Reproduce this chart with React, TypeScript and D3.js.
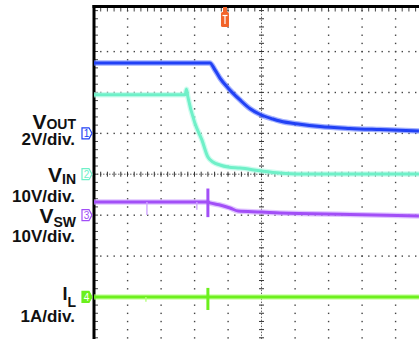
import React from "react";
import * as d3 from "d3";

// Time axis in divisions (0..10), each trace in its own physical units.
const voutT = [0, 3.46, 3.61, 3.76, 4.0, 4.36, 4.66, 4.96, 5.34, 5.55, 6.15, 6.75, 7.64, 8.54, 9.7];
const voutV = [3.44, 3.44, 3.1, 2.7, 2.22, 1.63, 1.2, 0.92, 0.7, 0.6, 0.44, 0.33, 0.24, 0.18, 0.11];

const vinT = [0, 2.72, 2.76, 2.8, 3.01, 3.22, 3.4, 3.55, 3.76, 4.0, 4.36, 5.01, 5.55, 6.15, 9.7];
const vinV = [19.4, 19.4, 20.8, 19.0, 12.5, 8.4, 4.2, 3.0, 2.25, 1.76, 1.5, 0.78, 0.3, 0.05, 0.05];

const vswT = [0, 3.38, 3.46, 3.61, 3.76, 4.06, 4.3, 5.01, 5.55, 7.64, 9.7];
const vswV = [3.2, 3.2, 3.0, 2.7, 2.47, 1.74, 1.0, 0.76, 0.5, 0.15, -0.2];

const ilT = [0, 9.7];
const ilV = [0, 0];

// Glitches: [channel, time, high, low]
const spikes: [number, number, number, number][] = [
  [3, 1.58, 3.2, 0.0],
  [3, 3.07, 3.2, 1.3],
  [3, 3.4, 6.5, -0.5],
  [4, 1.55, 0.0, -0.12],
  [4, 3.4, 0.22, -0.32],
];

const triggerT = 3.91;

const channelNames = ["1", "2", "3", "4"];
const channelOffsets = [1, 0, -1, -3]; // divisions from centre
const channelScales = [2, 10, 10, 1]; // units per division
const channelColors = ["#2141f5", "#6ff0c8", "#a24ff7", "#6cf01c"];
const haloColors = ["#6f86ff", "#b4fbe6", "#cfa6ff", "#b6ff80"];

const labelMain = ["V", "V", "V", "I"];
const labelSub = ["OUT", "IN", "SW", "L"];
const labelScale = ["2V/div.", "10V/div.", "10V/div.", "1A/div."];

// label layout (baselines in px)
const labelMainY = [129, 182, 223, 300];
const labelSubDy = [0, 2, 4, 7];
const labelScaleY = [145, 202, 242, 322];

const W = 419;
const H = 339;
const LEFT = 94;
const DIVX = 33.5;
const CY = 174.2;
const DIVY = 40.9;

const x = d3.scaleLinear().domain([0, 10]).range([LEFT, LEFT + 10 * DIVX]);
const yDiv = d3.scaleLinear().domain([-4, 4]).range([CY + 4 * DIVY, CY - 4 * DIVY]);
const yCh = (ch: number, v: number) => yDiv(channelOffsets[ch] + v / channelScales[ch]);

function tracePath(ch: number, ts: number[], vs: number[]) {
  const pts = ts.map((t, i) => [t, vs[i]] as [number, number]);
  return d3
    .line<[number, number]>()
    .x((d) => x(d[0]))
    .y((d) => yCh(ch, d[1]))
    .curve(d3.curveMonotoneX)(pts) as string;
}

export default function App() {
  const majorX = d3.range(1, 10);
  const majorY = d3.range(-3, 4);
  const minorX = d3.range(0, 50).map((i) => i / 5);
  const minorY = d3.range(-20, 21).map((i) => i / 5);

  const dots: JSX.Element[] = [];
  majorX.forEach((mx) => {
    if (mx === 5) return;
    minorY.forEach((my, j) => {
      dots.push(<rect key={`vx${mx}_${j}`} x={x(mx) - 0.6} y={yDiv(my) - 0.6} width={1.4} height={1.4} fill="#444" />);
    });
  });
  majorY.forEach((my) => {
    if (my === 0) return;
    minorX.forEach((mx, j) => {
      dots.push(<rect key={`hy${my}_${j}`} x={x(mx) - 0.6} y={yDiv(my) - 0.6} width={1.4} height={1.4} fill="#444" />);
    });
  });

  const traces = [
    { ch: 0, t: voutT, v: voutV },
    { ch: 1, t: vinT, v: vinV },
    { ch: 2, t: vswT, v: vswV },
    { ch: 3, t: ilT, v: ilV },
  ];

  const tx = x(triggerT);

  return (
    <svg width={W} height={H} style={{ position: "absolute", left: 0, top: 0, background: "#fff" }}
      fontFamily="'Liberation Sans', Arial, sans-serif">
      <rect x={0} y={0} width={W} height={H} fill="#fff" />
      {dots}
      {/* centre axes with minor ticks */}
      <line x1={LEFT} x2={W} y1={CY} y2={CY} stroke="#666" strokeWidth={1} strokeDasharray="1.5,1.5" />
      <line x1={x(5)} x2={x(5)} y1={yDiv(4)} y2={H} stroke="#666" strokeWidth={1} strokeDasharray="1.5,1.5" />
      {minorX.map((mx, i) => (
        <line key={`cx${i}`} x1={x(mx)} x2={x(mx)} y1={CY - 2.5} y2={CY + 2.5} stroke="#333" strokeWidth={1} />
      ))}
      {minorY.map((my, i) => (
        <line key={`cy${i}`} x1={x(5) - 2.5} x2={x(5) + 2.5} y1={yDiv(my)} y2={yDiv(my)} stroke="#333" strokeWidth={1} />
      ))}
      {/* border ticks */}
      {minorX.map((mx, i) => (
        <line key={`tx${i}`} x1={x(mx)} x2={x(mx)} y1={8} y2={11.5} stroke="#444" strokeWidth={1} />
      ))}
      {minorY.map((my, i) => (
        <line key={`ly${i}`} x1={LEFT} x2={LEFT + 4} y1={yDiv(my)} y2={yDiv(my)} stroke="#444" strokeWidth={1} />
      ))}
      {/* frame */}
      <line x1={LEFT - 1.5} x2={W} y1={6.5} y2={6.5} stroke="#000" strokeWidth={3} />
      <line x1={LEFT} x2={LEFT} y1={5} y2={H} stroke="#000" strokeWidth={3} />

      {/* traces */}
      {traces.map(({ ch, t, v }) => (
        <g key={`tr${ch}`}>
          <path d={tracePath(ch, t, v)} fill="none" stroke={haloColors[ch]} strokeWidth={5.5} strokeOpacity={0.65} />
          <path d={tracePath(ch, t, v)} fill="none" stroke={channelColors[ch]} strokeWidth={3} />
        </g>
      ))}
      {spikes.map(([ch, t, hi, lo], i) => (
        <line key={`sp${i}`} x1={x(t)} x2={x(t)} y1={yCh(ch - 1, hi)} y2={yCh(ch - 1, lo)}
          stroke={t > 3.3 ? channelColors[ch - 1] : haloColors[ch - 1]}
          strokeWidth={t > 3.3 ? 3 : 1.4} />
      ))}

      {/* trigger marker */}
      <g>
        <rect x={tx - 2} y={7} width={4} height={6} fill="#f2642a" />
        <rect x={tx - 4} y={12} width={8} height={15} rx={1.5} fill="#f2642a" />
        <line x1={tx - 2.5} x2={tx + 2.5} y1={15.5} y2={15.5} stroke="#fff" strokeWidth={1.2} />
        <line x1={tx} x2={tx} y1={15.5} y2={24} stroke="#fff" strokeWidth={1.2} />
      </g>

      {/* channel markers */}
      {channelNames.map((n, ch) => {
        const cy = yDiv(channelOffsets[ch]);
        const filled = ch === 3;
        return (
          <g key={`cm${ch}`}>
            <path d={`M82,${cy - 5.5} L89,${cy - 5.5} L92,${cy} L89,${cy + 5.5} L82,${cy + 5.5} Z`}
              fill={filled ? channelColors[ch] : "#fff"} stroke={channelColors[ch]} strokeWidth={1.2} />
            <text x={86.5} y={cy + 3.8} fontSize={10} textAnchor="middle" fill={filled ? "#fff" : channelColors[ch]}>{n}</text>
          </g>
        );
      })}

      {/* channel labels */}
      {labelMain.map((m, ch) => (
        <g key={`lb${ch}`} fill="#111" fontWeight="bold">
          <text x={76} y={labelMainY[ch]} textAnchor="end">
            <tspan fontSize={ch === 3 ? 18 : 21}>{m}</tspan>
            <tspan fontSize={14} dy={labelSubDy[ch]}>{labelSub[ch]}</tspan>
          </text>
          <text x={75} y={labelScaleY[ch]} textAnchor="end" fontSize={17}>{labelScale[ch]}</text>
        </g>
      ))}
    </svg>
  );
}
